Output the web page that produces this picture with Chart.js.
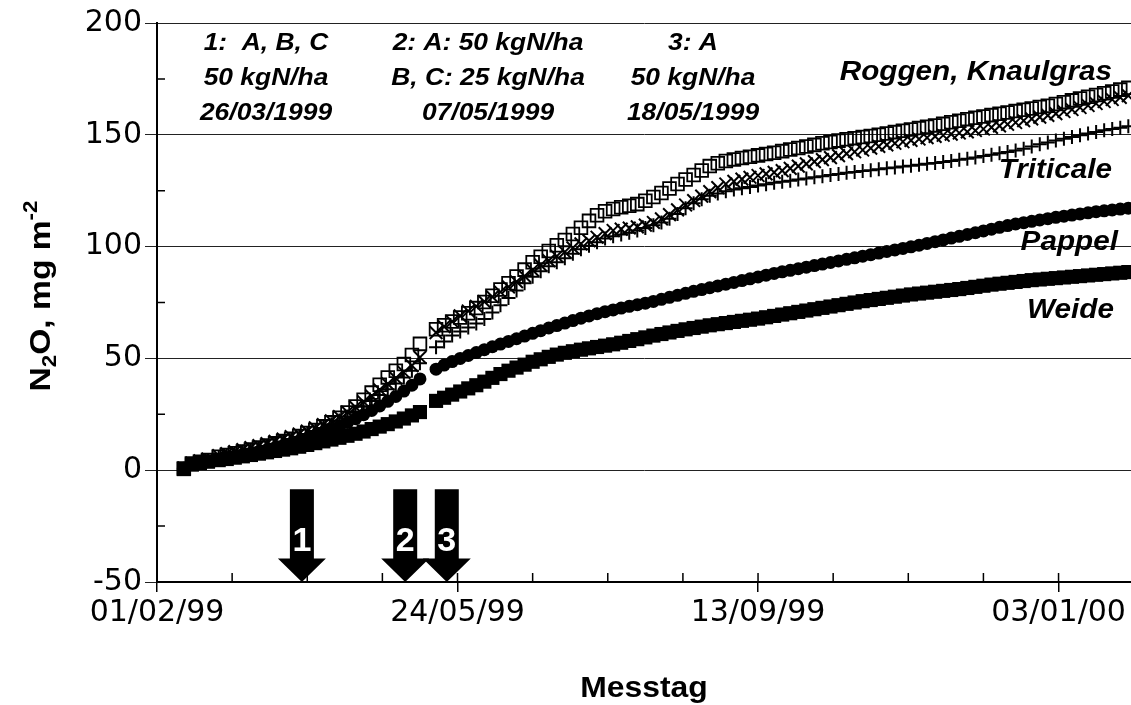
<!DOCTYPE html>
<html>
<head>
<meta charset="utf-8">
<script src="https://cdn.jsdelivr.net/npm/chart.js@4.4.1/dist/chart.umd.min.js"></script>
<style>
  html, body { margin: 0; padding: 0; background: #fff; }
</style>
</head>
<body>
<canvas id="chartCanvas" width="1131" height="705"></canvas>
<script>
// Messtage, as days after 01/02/1999
const days = [10, 13, 16, 19,
  23, 26, 29, 32, 35, 38, 41, 44, 47, 50, 53, 56, 59, 62, 65, 68, 71, 74, 77, 80, 83, 86, 89, 92, 95, 98,
  104, 107, 110, 113, 116, 119, 122, 125, 128, 131,
  134, 137, 140, 143, 146, 149, 152, 155, 158, 161,
  164, 167, 170, 173, 176, 179, 182, 185, 188, 191,
  194, 197, 200, 203, 206, 209, 212, 215, 218, 221,
  224, 227, 230, 233, 236, 239, 242, 245, 248, 251,
  254, 257, 260, 263, 266, 269, 272, 275, 278, 281,
  284, 287, 290, 293, 296, 299, 302, 305, 308, 311,
  314, 317, 320, 323, 326, 329, 332, 335, 338, 341,
  344, 347, 350, 353, 356, 359, 362];

// cumulative N2O, mg m-2
const roggen = [0.8, 3.0, 3.8, 4.5,
  6.0, 6.8, 7.6, 8.4, 9.2, 10.1, 11.0, 12.0, 13.0, 14.1, 15.3, 16.6, 18.0, 19.6, 21.4, 23.5, 25.8, 28.5, 31.5, 34.7, 38.2, 41.5, 44.5, 47.5, 51.5, 56.5,
  63.0, 64.8, 66.5, 68.3, 70.2, 72.5, 75.2, 78.0, 80.8, 83.6,
  86.6, 89.7, 93.0, 95.5, 98.0, 100.6, 103.0, 105.6, 108.4, 111.5,
  114.0, 115.8, 116.8, 117.6, 118.3, 119.0, 120.5, 122.2, 124.0, 126.0,
  128.0, 130.0, 132.0, 134.0, 136.0, 137.3, 138.3, 139.0, 139.6, 140.2,
  140.8, 141.4, 142.0, 142.7, 143.4, 144.1, 144.8, 145.5, 146.2, 146.8,
  147.4, 148.0, 148.5, 149.0, 149.5, 150.0, 150.6, 151.2, 151.8, 152.4,
  153.0, 153.6, 154.2, 154.9, 155.6, 156.3, 157.0, 157.6, 158.2, 158.8,
  159.4, 160.0, 160.6, 161.2, 161.8, 162.4, 163.0, 163.8, 164.6, 165.4,
  166.2, 167.0, 167.8, 168.6, 169.4, 170.2, 171.0];

const knaulgras = [1.0, 3.2, 4.2, 5.0,
  6.5, 7.4, 8.3, 9.2, 10.1, 11.0, 11.9, 12.9, 13.9, 15.0, 16.2, 17.5, 18.9, 20.4, 22.1, 24.0, 26.0, 28.2, 30.6, 33.2, 36.0, 38.6, 41.2, 43.8, 46.8, 50.5,
  61.5, 64.2, 66.5, 69.0, 71.2, 73.3, 75.4, 77.5, 79.7, 82.0,
  84.3, 86.8, 89.5, 91.7, 93.7, 95.7, 97.6, 99.4, 101.2, 102.6,
  104.2, 105.8, 107.2, 107.8, 108.3, 108.8, 109.6, 110.8, 112.4, 114.3,
  116.4, 118.6, 120.6, 122.6, 124.6, 126.4, 128.0, 129.2, 130.2, 131.0,
  131.8, 132.5, 133.2, 134.0, 135.0, 136.0, 137.0, 138.0, 138.9, 139.8,
  140.7, 141.6, 142.4, 143.2, 144.0, 144.8, 145.5, 146.2, 146.9, 147.5,
  148.1, 148.7, 149.3, 149.8, 150.3, 150.8, 151.3, 151.9, 152.6, 153.3,
  154.0, 154.7, 155.5, 156.3, 157.1, 157.9, 158.7, 159.5, 160.4, 161.3,
  162.2, 163.1, 164.0, 164.9, 165.8, 166.7, 167.5];

const triticale = [0.6, 2.8, 3.6, 4.3,
  5.8, 6.6, 7.4, 8.2, 9.0, 9.9, 10.8, 11.8, 12.8, 13.9, 15.0, 16.2, 17.5, 18.9, 20.5, 22.2, 24.0, 26.1, 28.4, 30.9, 33.6, 36.2, 38.8, 41.5, 44.5, 47.8,
  55.0, 57.6, 60.2, 62.0, 63.8, 65.6, 67.6, 70.5, 73.8, 77.0,
  80.4, 83.6, 86.5, 89.0, 91.2, 93.0, 94.8, 96.8, 98.8, 100.4,
  102.0, 103.6, 104.6, 105.4, 106.2, 107.2, 108.3, 109.5, 110.8, 112.4,
  114.6, 117.2, 119.4, 121.2, 122.7, 123.8, 124.7, 125.5, 126.1, 126.7,
  127.3, 127.9, 128.5, 129.0, 129.5, 130.0, 130.5, 131.0, 131.5, 132.0,
  132.5, 133.0, 133.4, 133.8, 134.2, 134.6, 135.0, 135.4, 135.8, 136.2,
  136.6, 137.0, 137.4, 137.8, 138.3, 138.8, 139.3, 139.9, 140.5, 141.1,
  141.7, 142.3, 143.0, 143.8, 144.8, 145.8, 146.6, 147.4, 148.2, 149.0,
  149.8, 150.6, 151.3, 152.0, 152.6, 153.2, 153.8];

const pappel = [0.5, 2.6, 3.4, 4.1,
  5.0, 5.6, 6.3, 7.0, 7.7, 8.4, 9.2, 10.0, 10.9, 11.9, 13.0, 14.2, 15.5, 16.8, 18.2, 19.7, 21.3, 23.0, 24.8, 26.7, 28.7, 30.8, 33.0, 35.4, 38.0, 40.8,
  45.2, 47.0, 48.6, 50.0, 51.3, 52.6, 53.9, 55.2, 56.4, 57.6,
  58.8, 60.0, 61.2, 62.4, 63.6, 64.7, 65.8, 66.9, 68.0, 69.0,
  70.0, 70.9, 71.7, 72.5, 73.3, 74.0, 74.7, 75.5, 76.4, 77.3,
  78.2, 79.1, 80.0, 80.8, 81.6, 82.4, 83.2, 84.0, 84.8, 85.6,
  86.4, 87.2, 88.0, 88.7, 89.4, 90.1, 90.8, 91.5, 92.2, 92.9,
  93.6, 94.3, 95.0, 95.7, 96.4, 97.1, 97.8, 98.5, 99.2, 99.9,
  100.6, 101.4, 102.2, 103.0, 103.8, 104.6, 105.4, 106.2, 107.0, 107.8,
  108.6, 109.4, 110.1, 110.7, 111.3, 111.9, 112.5, 113.1, 113.6, 114.1,
  114.6, 115.1, 115.6, 116.0, 116.4, 116.8, 117.2];

const weide = [0.5, 2.5, 3.2, 3.8,
  4.5, 5.0, 5.6, 6.2, 6.8, 7.4, 8.0, 8.6, 9.2, 9.8, 10.5, 11.3, 12.1, 12.9, 13.7, 14.5, 15.4, 16.3, 17.3, 18.4, 19.5, 20.6, 21.8, 23.1, 24.5, 26.0,
  31.0, 32.4, 33.8, 35.2, 36.6, 38.0, 39.6, 41.3, 43.0, 44.5,
  45.9, 47.2, 48.5, 49.6, 50.7, 51.7, 52.5, 53.2, 53.9, 54.5,
  55.1, 55.7, 56.3, 57.0, 57.8, 58.6, 59.4, 60.2, 60.9, 61.6,
  62.3, 63.0, 63.6, 64.2, 64.8, 65.3, 65.8, 66.3, 66.8, 67.3,
  67.8, 68.4, 69.0, 69.6, 70.2, 70.8, 71.4, 72.0, 72.6, 73.2,
  73.8, 74.4, 75.0, 75.6, 76.1, 76.6, 77.1, 77.6, 78.1, 78.6,
  79.0, 79.4, 79.8, 80.2, 80.6, 81.0, 81.5, 82.0, 82.5, 83.0,
  83.4, 83.8, 84.2, 84.6, 85.0, 85.3, 85.6, 85.9, 86.2, 86.5,
  86.8, 87.1, 87.4, 87.7, 88.0, 88.3, 88.6];

const xTickDays = [0, 112, 224, 336];
const xTickLabels = ['01/02/99', '24/05/99', '13/09/99', '03/01/00'];
const yTicks = [-50, 0, 50, 100, 150, 200];

// fertilisation dates (days after 01/02/1999) as drawn by the arrows
const arrowDays = [54, 92.5, 108];
const arrowNames = ['1', '2', '3'];
const notes = [
  ['1:  A, B, C', '50 kgN/ha', '26/03/1999'],
  ['2: A: 50 kgN/ha', 'B, C: 25 kgN/ha', '07/05/1999'],
  ['3: A', '50 kgN/ha', '18/05/1999']
];
const seriesNames = ['Roggen, Knaulgras', 'Triticale', 'Pappel', 'Weide'];

function toPoints(vals) {
  return vals.map((v, i) => ({ x: days[i], y: v }));
}

// text stretched horizontally like the original export
function drawText(c, text, x, y, font, align, sx) {
  c.save();
  c.font = font;
  c.textBaseline = 'alphabetic';
  c.textAlign = 'left';
  const w = c.measureText(text).width * sx;
  let left = x;
  if (align === 'center') left = x - w / 2;
  if (align === 'right') left = x - w;
  c.translate(left, y);
  c.scale(sx, 1);
  c.fillText(text, 0, 0);
  c.restore();
}

const overlay = {
  id: 'overlay',
  afterDraw(chart) {
    const c = chart.ctx;
    const xs = chart.scales.x;
    const ys = chart.scales.y;
    const area = chart.chartArea;
    c.save();
    c.strokeStyle = '#000';
    c.lineWidth = 1.5;

    // minor ticks, inside the plot
    c.beginPath();
    for (let d = xs.min; d <= xs.max; d += 28) {
      const px = xs.getPixelForValue(d);
      c.moveTo(px, area.bottom);
      c.lineTo(px, area.bottom - 9);
    }
    for (let v = -25; v < 200; v += 50) {
      const py = ys.getPixelForValue(v);
      c.moveTo(area.left, py);
      c.lineTo(area.left + 8, py);
    }
    c.stroke();

    // fertilisation arrows
    const top = ys.getPixelForValue(-8.5);
    const neck = ys.getPixelForValue(-39.5);
    const tip = ys.getPixelForValue(-50);
    arrowDays.forEach((d, i) => {
      const px = xs.getPixelForValue(d);
      c.fillStyle = '#000';
      c.beginPath();
      c.moveTo(px - 12, top);
      c.lineTo(px + 12, top);
      c.lineTo(px + 12, neck);
      c.lineTo(px + 24, neck);
      c.lineTo(px, tip);
      c.lineTo(px - 24, neck);
      c.lineTo(px - 12, neck);
      c.closePath();
      c.fill();
      c.fillStyle = '#fff';
      drawText(c, arrowNames[i], px, top + 62, 'bold 34px "Liberation Sans"', 'center', 1);
    });

    c.fillStyle = '#000';
    // notes at the top
    const noteX = [266, 488, 693];
    const noteY = [50, 85, 120];
    notes.forEach((lines, i) => {
      lines.forEach((t, j) => {
        drawText(c, t, noteX[i], noteY[j], 'italic bold 24px "Liberation Sans"', 'center', 1.1);
      });
    });

    // series names
    const labRight = [1112, 1112, 1118, 1114];
    const labBase = [80, 178, 250, 318];
    seriesNames.forEach((t, i) => {
      drawText(c, t, labRight[i], labBase[i], 'italic bold 27px "Liberation Sans"', 'right', 1.1);
    });

    // axis titles
    drawText(c, 'Messtag', (area.left + area.right) / 2, 697, 'bold 29px "Liberation Sans"', 'center', 1.1);

    c.save();
    c.translate(50, 296);
    c.rotate(-Math.PI / 2);
    const parts = [
      { t: 'N', f: 'bold 30px "Liberation Sans"', dy: 0 },
      { t: '2', f: 'bold 20px "Liberation Sans"', dy: 6 },
      { t: 'O, mg m', f: 'bold 30px "Liberation Sans"', dy: 0 },
      { t: '-2', f: 'bold 20px "Liberation Sans"', dy: -13 }
    ];
    const sx = 1.12;
    let total = 0;
    parts.forEach(p => { c.font = p.f; p.w = c.measureText(p.t).width * sx; total += p.w; });
    let cx = -total / 2;
    parts.forEach(p => {
      drawText(c, p.t, cx, p.dy, p.f, 'left', sx);
      cx += p.w;
    });
    c.restore();

    c.restore();
  }
};

const ctx = document.getElementById('chartCanvas').getContext('2d');
const myChart = new Chart(ctx, {
  type: 'scatter',
  data: {
    datasets: [
      {
        label: 'Roggen', data: toPoints(roggen),
        pointStyle: 'rect', pointRadius: 9, pointBorderWidth: 1.8,
        pointBorderColor: '#000', pointBackgroundColor: 'rgba(0,0,0,0)'
      },
      {
        label: 'Knaulgras', data: toPoints(knaulgras),
        pointStyle: 'crossRot', pointRadius: 9, pointBorderWidth: 2,
        pointBorderColor: '#000', pointBackgroundColor: '#000'
      },
      {
        label: 'Triticale', data: toPoints(triticale),
        pointStyle: 'cross', pointRadius: 7, pointBorderWidth: 2,
        pointBorderColor: '#000', pointBackgroundColor: '#000'
      },
      {
        label: 'Pappel', data: toPoints(pappel),
        pointStyle: 'circle', pointRadius: 6.5, pointBorderWidth: 0,
        pointBorderColor: '#000', pointBackgroundColor: '#000'
      },
      {
        label: 'Weide', data: toPoints(weide),
        pointStyle: 'rect', pointRadius: 10, pointBorderWidth: 0,
        pointBorderColor: '#000', pointBackgroundColor: '#000'
      }
    ]
  },
  options: {
    responsive: false,
    animation: false,
    layout: { autoPadding: false, padding: { top: 23, right: 0, bottom: 0, left: 0 } },
    plugins: {
      legend: { display: false },
      tooltip: { enabled: false }
    },
    scales: {
      x: {
        type: 'linear',
        min: 0,
        max: 363,
        afterBuildTicks: s => { s.ticks = xTickDays.map(v => ({ value: v })); },
        afterFit: s => { s.height = 123; s.paddingLeft = 0; s.paddingRight = 0; },
        ticks: {
          callback: v => xTickLabels[xTickDays.indexOf(v)],
          font: { family: 'DejaVu Sans', size: 30 },
          color: '#000',
          padding: 3,
          maxRotation: 0,
          autoSkip: false
        },
        grid: { drawOnChartArea: false, tickLength: 10, color: '#000', lineWidth: 1.5 },
        border: { color: '#000', width: 2 }
      },
      y: {
        min: -50,
        max: 200,
        afterBuildTicks: s => { s.ticks = yTicks.map(v => ({ value: v })); },
        afterFit: s => { s.width = 157; s.paddingTop = 0; s.paddingBottom = 0; },
        ticks: {
          font: { family: 'DejaVu Sans', size: 30 },
          color: '#000',
          padding: 3
        },
        grid: { color: '#222', lineWidth: 1, tickLength: 12 },
        border: { color: '#000', width: 2 }
      }
    }
  },
  plugins: [overlay]
});
</script>
</body>
</html>
